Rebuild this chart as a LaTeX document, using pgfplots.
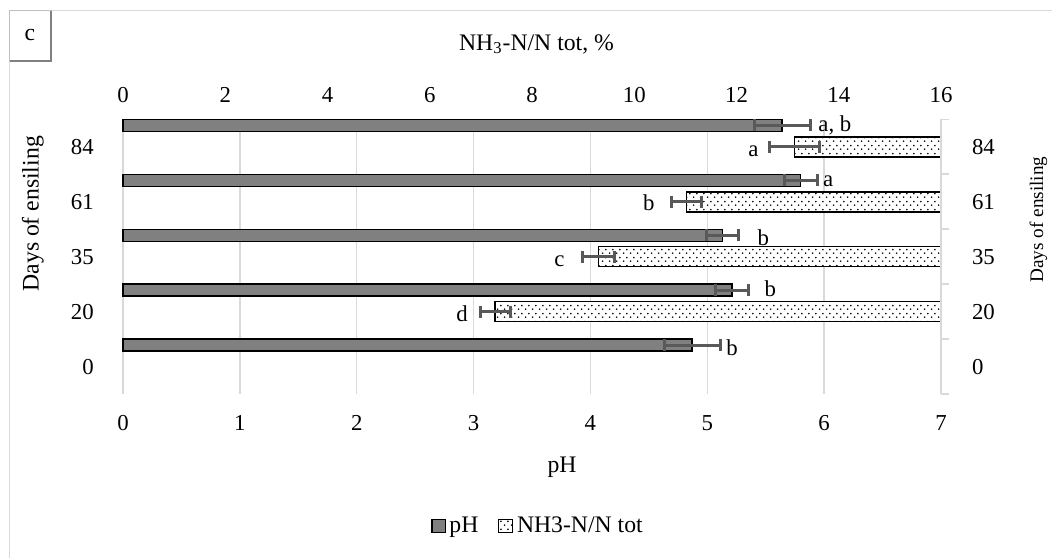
\documentclass[border=0pt]{standalone}
\usepackage{fontspec}
\setmainfont{Liberation Serif}
\usepackage{pgfplots}
\pgfplotsset{compat=1.18}
\usepackage{pgfplotstable}
\usetikzlibrary{patterns,patterns.meta}
\definecolor{phgray}{HTML}{808080}
\definecolor{errgray}{HTML}{595959}
\definecolor{gridgray}{HTML}{D9D9D9}
\definecolor{boxgray}{HTML}{BFBFBF}

\tikzdeclarepattern{
  name=mydots,
  type=uncolored,
  bottom left={(0pt,0pt)},
  top right={(3.6pt,4pt)},
  tile size={(3.6pt,4pt)},
  code={
    \pgfpathcircle{\pgfpoint{0.9pt}{1pt}}{0.5pt}
    \pgfpathcircle{\pgfpoint{2.7pt}{3pt}}{0.5pt}
    \pgfusepath{fill}
  }
}

\pgfplotstableread{
y v e
0 4.87 0.24
1 5.21 0.14
2 5.13 0.14
3 5.80 0.14
4 5.64 0.24
}\phdata
\pgfplotstableread{
y v e
1 7.28 0.29
2 9.30 0.31
3 11.02 0.29
4 13.13 0.49
}\nhdata

\newcommand{\fs}{\fontsize{11.4}{13}\selectfont}
\newcommand{\ft}{\fontsize{11.85}{14}\selectfont}

\pgfplotsset{
  common/.style={
    at={(61.5pt,-197pt)}, anchor=south west,
    scale only axis, width=409pt, height=137.25pt,
    xbar, ymin=-0.5, ymax=4.5,
    ytick={0,...,4}, yticklabels={0,20,35,61,84},
    axis line style={draw=none}, tick style={draw=none},
    /pgf/number format/assume math mode=true,
    tick label style={font=\fs},
    clip=false,
  },
  myerr/.style={
    error bars/x dir=both, error bars/x explicit,
    error bars/error bar style={errgray, line width=1.5pt},
    error bars/error mark options={errgray, line width=1.5pt, mark size=3pt, rotate=90},
  }
}

\begin{document}
\begin{tikzpicture}
\useasboundingbox (0pt,0pt) rectangle (526pt,-279pt);
% chart frame
\draw[gridgray,line width=0.6pt] (4.75pt,-279pt) -- (4.75pt,-5.25pt) -- (526pt,-5.25pt);
% "c" box
\draw[boxgray,line width=0.6pt] (4.75pt,-5.25pt) rectangle (25.5pt,-30.5pt);
\draw[gray,line width=0.6pt] (25.5pt,-5.5pt) -- (25.5pt,-30.5pt) -- (4.75pt,-30.5pt);
\node[font=\ft,anchor=base,inner sep=0pt] at (15pt,-20pt) {c};

% primary axis: pH
\begin{axis}[common,
  xmin=0, xmax=7, xtick={0,...,7},
  xmajorgrids, grid style={gridgray, line width=0.75pt},
  xticklabel style={yshift=-7pt},
  yticklabel style={xshift=-6.8pt},
  bar width=6pt, bar shift=10.75pt,
]
\addplot[fill=phgray, draw=black, line width=0.7pt, myerr]
  table[x=v, y=y, x error=e] {\phdata};
\end{axis}

% secondary axis: NH3-N/N tot (bars from the right)
\begin{axis}[common,
  x dir=reverse, xmin=0, xmax=16, xtick={0,2,...,16},
  xticklabel pos=upper, yticklabel pos=upper,
  xticklabel={\pgfmathtruncatemacro\tv{16-\tick}\tv},
  xticklabel style={yshift=5.1pt},
  yticklabel style={xshift=7.7pt},
  bar width=10pt, bar shift=0pt,
]
\addplot[fill=white, draw=black, line width=0.7pt, postaction={pattern=mydots, pattern color=black}, myerr]
  table[x expr=16-\thisrow{v}, y=y, x error=e] {\nhdata};
\end{axis}

% right axis line with ticks
\draw[gridgray,line width=0.75pt] (470.5pt,-59.65pt) -- (470.5pt,-197pt);
\foreach \k in {0,...,5}{
  \draw[gridgray,line width=0.75pt] (470.5pt,{-59.65pt-\k*27.45pt}) -- (474.5pt,{-59.65pt-\k*27.45pt});
}

% significance letters
\begin{scope}[every node/.style={font=\fs, inner sep=0pt}]
\node[anchor=base west] at (409pt,-65.5pt) {a, b};
\node[anchor=base east] at (379.5pt,-78pt) {a};
\node[anchor=base west] at (411.3pt,-93pt) {a};
\node[anchor=base east] at (327.5pt,-105pt) {b};
\node[anchor=base west] at (378.6pt,-122.5pt) {b};
\node[anchor=base east] at (282.5pt,-133pt) {c};
\node[anchor=base west] at (382.1pt,-148.3pt) {b};
\node[anchor=base east] at (234.1pt,-160.8pt) {d};
\node[anchor=base west] at (363pt,-177.8pt) {b};
\end{scope}

% axis titles
\node[font=\ft, anchor=base, inner sep=0pt] at (268.25pt,-25pt) {NH\textsubscript{3}-N/N tot, \%};
\node[font=\ft, anchor=base, inner sep=0pt] at (281pt,-236.2pt) {pH};
\node[font=\ft, anchor=base, inner sep=0pt, rotate=90] at (19.25pt,-106.9pt) {Days of ensiling};
\node[font=\fontsize{9.6}{11}\selectfont, anchor=base, inner sep=0pt, rotate=90] at (521.6pt,-109.75pt) {Days of ensiling};

% legend
\draw[fill=phgray, draw=black, line width=0.6pt] (216pt,-259.7pt) rectangle (222.8pt,-266.2pt);
\node[font=\ft, anchor=base west, inner sep=0pt] at (224.5pt,-266.2pt) {pH};
\draw[fill=white, draw=black, line width=0.6pt, postaction={pattern=mydots, pattern color=black}] (249.3pt,-259.7pt) rectangle (256.1pt,-266.2pt);
\node[font=\ft, anchor=base west, inner sep=0pt] at (258.3pt,-266.2pt) {NH3-N/N tot};
\end{tikzpicture}
\end{document}
